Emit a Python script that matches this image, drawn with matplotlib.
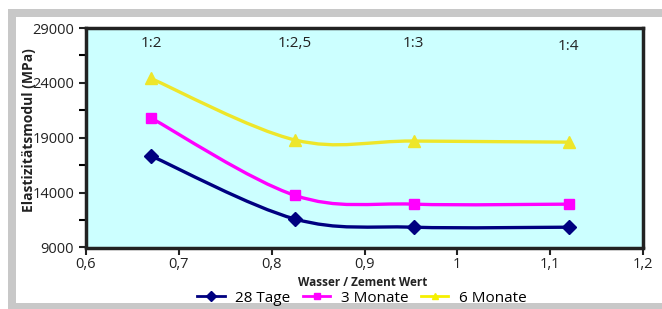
import numpy as np
import matplotlib
matplotlib.use("Agg")
import matplotlib.pyplot as plt
from matplotlib.path import Path
from matplotlib.patches import PathPatch, Rectangle
from matplotlib.lines import Line2D

plt.rcParams['font.family'] = ['Open Sans', 'DejaVu Sans']

# data
wz = [0.67, 0.825, 0.953, 1.12]
ratio_labels = ['1:2', '1:2,5', '1:3', '1:4']
label_y = [27550, 27550, 27550, 27300]
e_28_tage = [17350, 11600, 10850, 10850]
e_3_monate = [20800, 13750, 12950, 12950]
e_6_monate = [24400, 18800, 18700, 18600]

series = [
    ('28 Tage', e_28_tage, '#000080', '#000080', 'D', 7.5),
    ('3 Monate', e_3_monate, '#FF00FF', '#FF00FF', 's', 7.5),
    ('6 Monate', e_6_monate, '#EEE62A', '#F5F000', '^', 8),
]


def smooth_path(x, y):
    # excel-like smoothed line: cubic bezier segments, tangents (p[i+1]-p[i-1])/6
    pts = np.column_stack([x, y]).astype(float)
    n = len(pts)
    verts = [pts[0]]
    codes = [Path.MOVETO]
    for i in range(n - 1):
        p0 = pts[i - 1] if i > 0 else pts[i]
        p1 = pts[i]
        p2 = pts[i + 1]
        p3 = pts[i + 2] if i + 2 < n else pts[i + 1]
        c1 = p1 + (p2 - p0) / 6.0
        c2 = p2 - (p3 - p1) / 6.0
        verts += [c1, c2, p2]
        codes += [Path.CURVE4] * 3
    return Path(verts, codes)


fig = plt.figure(figsize=(6.62, 3.09), dpi=100)
W, H = 662, 309
# grey frame
fig.patches.append(Rectangle((8 / W, 0), 1 - 8 / W, (H - 9) / H, transform=fig.transFigure,
                             facecolor='#C8C8C8', edgecolor='none', zorder=-10))
fig.patches.append(Rectangle((16 / W, 6 / H), 1 - 16 / W, (H - 17 - 6) / H, transform=fig.transFigure,
                             facecolor='white', edgecolor='none', zorder=-9))

ax = fig.add_axes([86 / W, (H - 247.5) / H, (643 - 86) / W, (247.5 - 28) / H])
ax.set_facecolor('#CCFFFF')

handles = []
for name, vals, col, lcol, mk, ms in series:
    ax.add_patch(PathPatch(smooth_path(wz, vals), fill=False, edgecolor=col, lw=2.4,
                           transform=ax.transData, zorder=2))
    ax.plot(wz, vals, linestyle='none', marker=mk, color=col, markersize=ms, zorder=3)
    handles.append(Line2D([], [], color=lcol, lw=2, marker=mk, markersize=5))

for xv, yv, t in zip(wz, label_y, ratio_labels):
    ax.text(xv, yv, t, ha='center', va='center', fontsize=11, color='#222222')

ax.set_xlim(0.6, 1.2)
ax.set_ylim(9000, 29000)
ax.set_xticks(np.arange(0.6, 1.21, 0.1))
ax.set_xticklabels(['0,6', '0,7', '0,8', '0,9', '1', '1,1', '1,2'])
ax.set_yticks([9000, 14000, 19000, 24000, 29000])
ax.set_yticks([11500, 16500, 21500, 26500], minor=True)
ax.tick_params(axis='both', labelsize=10.5, colors='#222222', width=1.5, length=5, direction='out')
ax.tick_params(axis='x', pad=2)
ax.tick_params(axis='y', which='minor', width=1.5, length=5)
for s in ax.spines.values():
    s.set_linewidth(2.5)
    s.set_color('#222222')

ax.set_xlabel('Wasser / Zement Wert', fontsize=8.5, fontweight='bold', color='#222222')
ax.xaxis.set_label_coords(0.497, -0.128)
ax.set_ylabel('Elastizitätsmodul (MPa)', fontsize=10, fontweight='bold', color='#222222')
ax.yaxis.set_label_coords(-0.09, 0.535)

fig.legend(handles, [s[0] for s in series], loc='center', bbox_to_anchor=(362 / W, 1 - 298 / H),
           ncol=3, frameon=False, fontsize=11, handlelength=1.8, columnspacing=0.8,
           handletextpad=0.7, borderpad=0)

fig.savefig('out.png', dpi=100)
